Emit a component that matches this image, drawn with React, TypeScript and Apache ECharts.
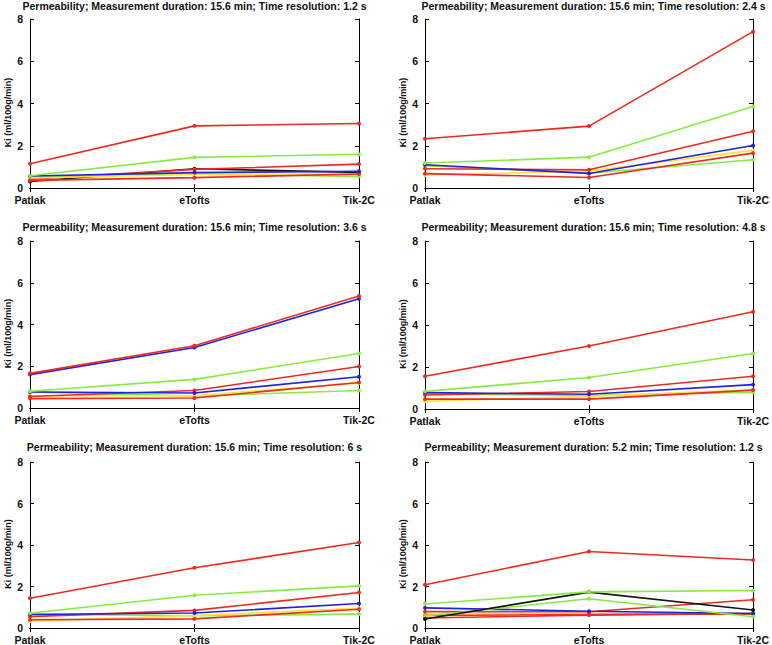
import React, { useEffect, useRef } from "react";
import * as echarts from "echarts";

const categories = ["Patlak", "eTofts", "Tik-2C"];
const yTicks = [0, 2, 4, 6, 8];
const titles = [
  "Permeability; Measurement duration: 15.6 min; Time resolution: 1.2 s",
  "Permeability; Measurement duration: 15.6 min; Time resolution: 2.4 s",
  "Permeability; Measurement duration: 15.6 min; Time resolution: 3.6 s",
  "Permeability; Measurement duration: 15.6 min; Time resolution: 4.8 s",
  "Permeability; Measurement duration: 15.6 min; Time resolution: 6 s",
  "Permeability; Measurement duration: 5.2 min; Time resolution: 1.2 s",
];
const yAxisName = "Ki (ml/100g/min)";

type S = [string, number[]];
const panel1: S[] = [
  ["black", [0.31, 0.91, 0.74]],
  ["red2", [0.42, 0.88, 1.13]],
  ["green2", [0.55, 0.66, 0.55]],
  ["yellow", [0.47, 0.64, 0.66]],
  ["red3", [0.36, 0.49, 0.66]],
  ["blue", [0.57, 0.73, 0.79]],
  ["green1", [0.58, 1.45, 1.6]],
  ["red1", [1.15, 2.94, 3.05]],
];
const panel2: S[] = [
  ["green2", [1.05, 0.7, 1.34]],
  ["yellow", [0.62, 0.8, 1.78]],
  ["red3", [0.68, 0.5, 1.65]],
  ["red2", [0.91, 0.86, 2.69]],
  ["blue", [1.1, 0.69, 2.01]],
  ["green1", [1.18, 1.46, 3.86]],
  ["red1", [2.33, 2.93, 7.4]],
];
const panel3: S[] = [
  ["green2", [0.77, 0.57, 0.84]],
  ["yellow", [0.59, 0.59, 1.2]],
  ["red3", [0.45, 0.48, 1.22]],
  ["red2", [0.55, 0.84, 1.99]],
  ["blue2", [0.77, 0.72, 1.5]],
  ["green1", [0.8, 1.37, 2.61]],
  ["blue1", [1.6, 2.9, 5.23]],
  ["red1", [1.66, 2.98, 5.37]],
];
const panel4: S[] = [
  ["green2", [0.72, 0.64, 0.8]],
  ["yellow", [0.37, 0.6, 0.92]],
  ["red3", [0.47, 0.47, 0.9]],
  ["red2", [0.67, 0.83, 1.56]],
  ["blue", [0.78, 0.7, 1.16]],
  ["green1", [0.84, 1.5, 2.64]],
  ["red1", [1.56, 3.0, 4.63]],
];
const panel5: S[] = [
  ["green2", [0.67, 0.59, 0.67]],
  ["yellow", [0.33, 0.6, 0.95]],
  ["red3", [0.4, 0.44, 0.9]],
  ["red2", [0.55, 0.85, 1.71]],
  ["blue", [0.65, 0.72, 1.18]],
  ["green1", [0.71, 1.58, 2.03]],
  ["red1", [1.43, 2.9, 4.12]],
];
const panel6: S[] = [
  ["yellow", [0.67, 0.7, 0.7]],
  ["red3", [0.48, 0.62, 0.7]],
  ["red4", [0.6, 0.65, 0.68]],
  ["red2", [0.79, 0.78, 1.36]],
  ["blue", [0.97, 0.81, 0.7]],
  ["green2", [0.58, 1.41, 0.54]],
  ["black", [0.43, 1.73, 0.87]],
  ["green1", [1.16, 1.74, 1.81]],
  ["red1", [2.08, 3.69, 3.28]],
];
const panels = [panel1, panel2, panel3, panel4, panel5, panel6];

const colorOf = (key: string) => {
  if (key.startsWith("red")) return "#ee2a1e";
  if (key.startsWith("green")) return "#86ec3e";
  if (key.startsWith("blue")) return "#1c22e6";
  if (key.startsWith("yellow")) return "#ffe33a";
  return "#151515";
};

const gridBoxes = [
  { left: 30, top: 19, width: 329, height: 169 },
  { left: 425, top: 19, width: 329, height: 169 },
  { left: 30, top: 241, width: 329, height: 167 },
  { left: 425, top: 241, width: 329, height: 168 },
  { left: 30, top: 462, width: 329, height: 169 },
  { left: 425, top: 462, width: 329, height: 169 },
];
const titleTops = [0, 0, 221, 221, 441, 441];

export default function App() {
  const ref = useRef<HTMLDivElement>(null);
  useEffect(() => {
    document.body.style.margin = "0";
    const chart = echarts.init(ref.current!, null, { renderer: "svg" });
    const font = "Liberation Sans, Arial, sans-serif";
    const grid: any[] = [];
    const xAxis: any[] = [];
    const yAxis: any[] = [];
    const series: any[] = [];
    const title: any[] = [];
    const lineStyle = { color: "#000", width: 1 };
    panels.forEach((p, i) => {
      const g = gridBoxes[i];
      grid.push({ ...g, containLabel: false });
      title.push({
        text: titles[i],
        left: g.left + g.width / 2 + (i % 2 === 1 ? 4 : 0),
        textAlign: "center",
        top: titleTops[i],
        padding: 0,
        textStyle: { fontFamily: font, fontSize: 10.5, fontWeight: "bold", color: "#111" },
      });
      xAxis.push({
        type: "category",
        gridIndex: i,
        data: categories,
        boundaryGap: false,
        position: "bottom",
        axisLine: { show: true, lineStyle },
        axisTick: { show: true, inside: true, length: 4, lineStyle },
        axisLabel: { fontFamily: font, fontSize: 10.5, fontWeight: "bold", color: "#111", margin: 6 },
        splitLine: { show: false },
      });
      xAxis.push({
        type: "category",
        gridIndex: i,
        data: categories,
        boundaryGap: false,
        position: "top",
        axisLine: { show: true, lineStyle },
        axisTick: { show: true, inside: true, length: 4, lineStyle },
        axisLabel: { show: false },
        splitLine: { show: false },
      });
      yAxis.push({
        type: "value",
        gridIndex: i,
        min: yTicks[0],
        max: yTicks[yTicks.length - 1],
        interval: 2,
        position: "left",
        name: yAxisName,
        nameLocation: "middle",
        nameGap: 18,
        nameRotate: 90,
        nameTextStyle: { fontFamily: font, fontSize: 9, fontWeight: "bold", color: "#111", padding: [0, 18, 0, 0] },
        axisLine: { show: true, lineStyle },
        axisTick: { show: true, inside: true, length: 4, lineStyle },
        axisLabel: { fontFamily: font, fontSize: 10.5, fontWeight: "bold", color: "#111", margin: 7 },
        splitLine: { show: false },
      });
      yAxis.push({
        type: "value",
        gridIndex: i,
        min: yTicks[0],
        max: yTicks[yTicks.length - 1],
        interval: 2,
        position: "right",
        axisLine: { show: true, lineStyle },
        axisTick: { show: true, inside: true, length: 4, lineStyle },
        axisLabel: { show: false },
        splitLine: { show: false },
      });
      p.forEach(([key, values], j) => {
        const c = colorOf(key);
        series.push({
          type: "line",
          name: `${i + 1}-${key}`,
          xAxisIndex: i * 2,
          yAxisIndex: i * 2,
          data: values,
          symbol: "circle",
          symbolSize: 4,
          z: 2 + j,
          lineStyle: { color: c, width: 1.6 },
          itemStyle: { color: c },
          emphasis: { disabled: true },
        });
      });
    });
    chart.setOption({
      animation: false,
      backgroundColor: "#fff",
      title,
      grid,
      xAxis,
      yAxis,
      series,
    });
    return () => chart.dispose();
  }, []);
  return <div ref={ref} style={{ width: 772, height: 645 }} />;
}
